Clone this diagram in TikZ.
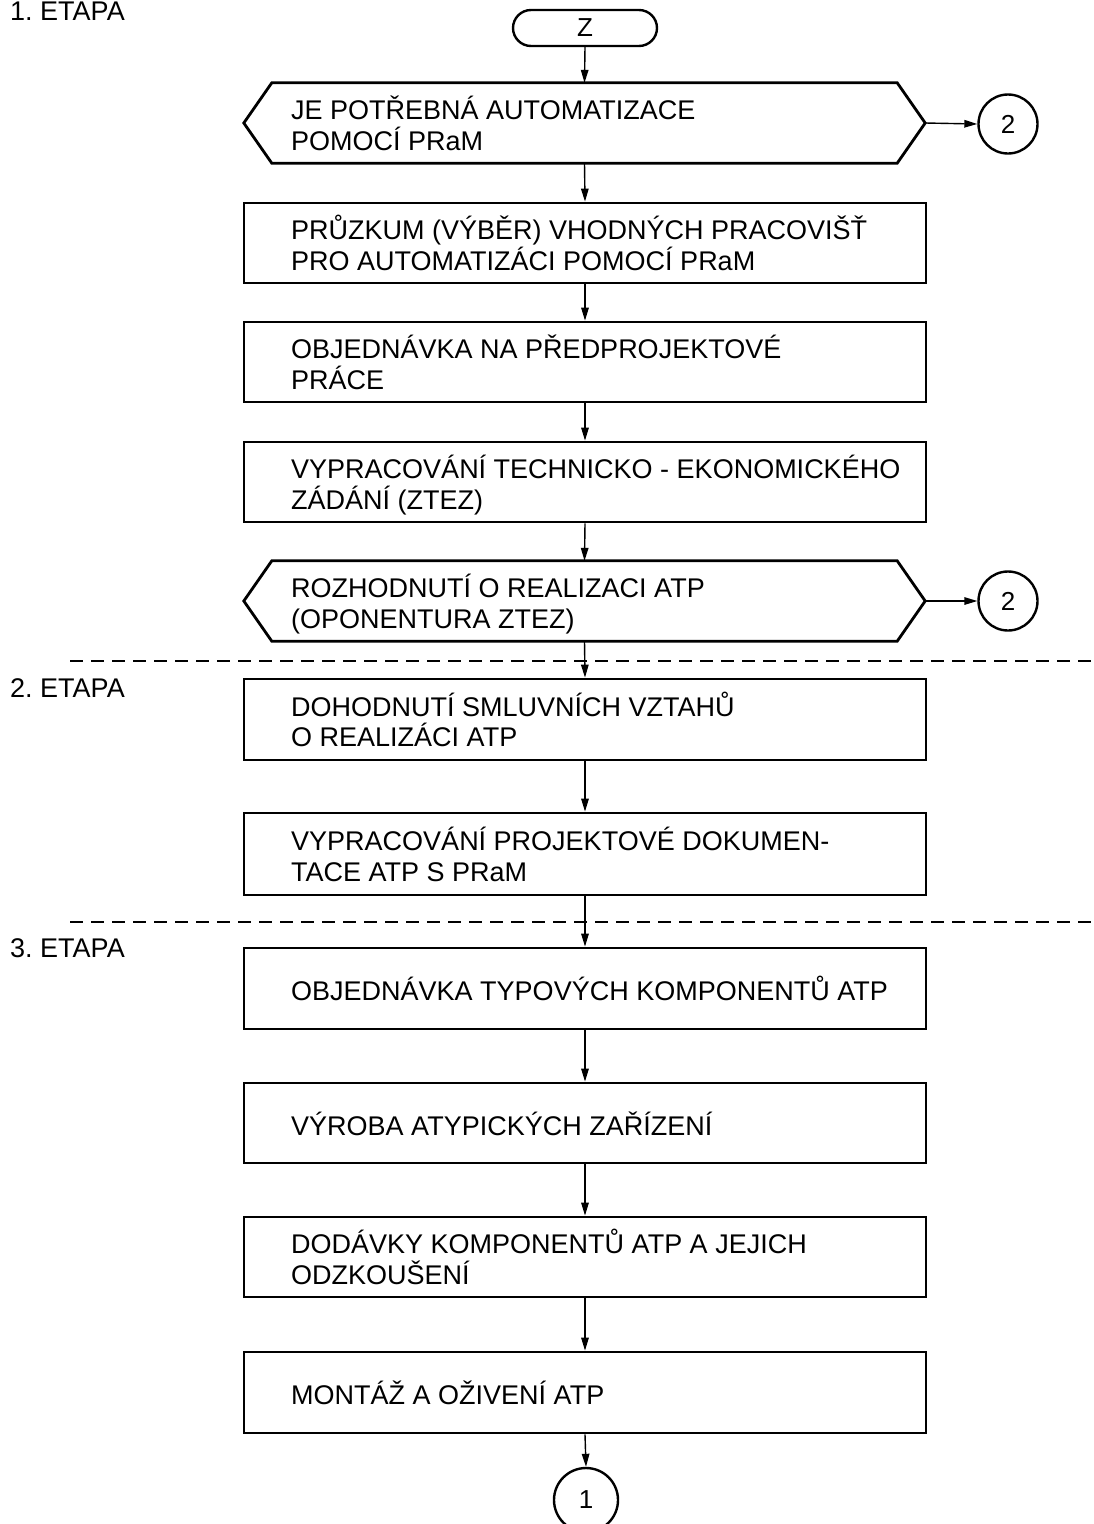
\documentclass[tikz,border=0pt]{standalone}
\usepackage{fontspec}
\setmainfont{Liberation Sans}
\usetikzlibrary{arrows.meta,calc}
\frenchspacing
\begin{document}
\begin{tikzpicture}[x=1pt,y=1pt,
  box/.style={draw, line width=2.8pt, minimum width=682pt, inner sep=0pt},
  hexbase/.style={minimum width=681pt, minimum height=80pt, inner sep=0pt},
  hexline/.style={line width=2.8pt, line join=miter},
  txt/.style={anchor=base west, inner sep=0pt, align=left, font=\fontsize{27}{30.5}\selectfont},
  arr/.style={line width=1.4pt, -{Triangle[length=13pt,width=7.5pt]}},
  conn/.style={circle, draw, line width=2.4pt, inner sep=0pt, font=\fontsize{26}{30}\selectfont},
  sep/.style={line width=1.4pt, dash pattern=on 13pt off 8pt},
  etapa/.style={anchor=base west, inner sep=0pt, font=\fontsize{27}{30}\selectfont}]
\fill[white] (0,0) rectangle (1093,-1524);
\useasboundingbox (0,0) rectangle (1093,-1524);

% stage labels and separators
\node[etapa] (e1) at (10,-20.5) {1. ETAPA};
\node[etapa] (e2) at (10,-697) {2. ETAPA};
\node[etapa] (e3) at (10,-957) {3. ETAPA};
\coordinate (s1a) at (70,-661);
\coordinate (s1b) at (1093,-661);
\coordinate (s2a) at (70,-922);
\coordinate (s2b) at (1093,-922);
\draw[sep] (s1a) -- (s1b);
\draw[sep] (s2a) -- (s2b);

% start
\node[draw, line width=2.4pt, rounded corners=18pt, minimum width=144pt, minimum height=36pt, inner sep=0pt, font=\fontsize{26}{28}\selectfont] (z) at (585,-28) {Z};

% decision 1
\node[hexbase] (d1) at (584.5,-123) {};
\draw[hexline] (d1.west) -- ($(d1.north west)+(28,0)$) -- ($(d1.north east)+(-28,0)$) -- (d1.east) -- ($(d1.south east)+(-28,0)$) -- ($(d1.south west)+(28,0)$) -- cycle;
\node[txt] (t0) at (291,-150) {JE POTŘEBNÁ AUTOMATIZACE\\POMOCÍ PRaM};
\node[conn, minimum size=59pt] (c2a) at (1008,-124) {2};

% boxes
\node[box, minimum height=80pt] (b1) at (585,-243) {};
\node[txt] (t1) at (291,-270) {PRŮZKUM (VÝBĚR) VHODNÝCH PRACOVIŠŤ\\PRO AUTOMATIZÁCI POMOCÍ PRaM};
\node[box, minimum height=80pt] (b2) at (585,-362) {};
\node[txt] (t2) at (291,-389) {OBJEDNÁVKA NA PŘEDPROJEKTOVÉ\\PRÁCE};
\node[box, minimum height=80pt] (b3) at (585,-482) {};
\node[txt] (t3) at (291,-509) {VYPRACOVÁNÍ TECHNICKO - EKONOMICKÉHO\\ZÁDÁNÍ (ZTEZ)};

% decision 2
\node[hexbase] (d2) at (584.5,-601) {};
\draw[hexline] (d2.west) -- ($(d2.north west)+(28,0)$) -- ($(d2.north east)+(-28,0)$) -- (d2.east) -- ($(d2.south east)+(-28,0)$) -- ($(d2.south west)+(28,0)$) -- cycle;
\node[txt] (t4) at (291,-628) {ROZHODNUTÍ O REALIZACI ATP\\(OPONENTURA ZTEZ)};
\node[conn, minimum size=59pt] (c2b) at (1008,-601) {2};

\node[box, minimum height=81pt] (b4) at (585,-719.5) {};
\node[txt] (t5) at (291,-746.5) {DOHODNUTÍ SMLUVNÍCH VZTAHŮ\\O REALIZÁCI ATP};
\node[box, minimum height=82pt] (b5) at (585,-854) {};
\node[txt] (t6) at (291,-881) {VYPRACOVÁNÍ PROJEKTOVÉ DOKUMEN-\\TACE ATP S PRaM};
\node[box, minimum height=81pt] (b6) at (585,-988.5) {};
\node[txt] (t7) at (291,-1000.5) {OBJEDNÁVKA TYPOVÝCH KOMPONENTŮ ATP};
\node[box, minimum height=80pt] (b7) at (585,-1123) {};
\node[txt] (t8) at (291,-1135) {VÝROBA ATYPICKÝCH ZAŘÍZENÍ};
\node[box, minimum height=80pt] (b8) at (585,-1257) {};
\node[txt] (t9) at (291,-1284) {DODÁVKY KOMPONENTŮ ATP A JEJICH\\ODZKOUŠENÍ};
\node[box, minimum height=81pt] (b9) at (585,-1392.5) {};
\node[txt] (t10) at (291,-1404) {MONTÁŽ A OŽIVENÍ ATP};

\node[conn, minimum size=64pt] (c1) at (586,-1500) {1};

% connectors
\draw[arr] (z.south) -- (d1.north);
\draw[arr] (d1.east) -- (c2a.west);
\draw[arr] (d1.south) -- (b1.north);
\draw[arr] (b1.south) -- (b2.north);
\draw[arr] (b2.south) -- (b3.north);
\draw[arr] (b3.south) -- (d2.north);
\draw[arr] (d2.east) -- (c2b.west);
\draw[arr] (d2.south) -- (b4.north);
\draw[arr] (b4.south) -- (b5.north);
\draw[arr] (b5.south) -- (b6.north);
\draw[arr] (b6.south) -- (b7.north);
\draw[arr] (b7.south) -- (b8.north);
\draw[arr] (b8.south) -- (b9.north);
\draw[arr] (b9.south) -- (c1.north);
\end{tikzpicture}
\end{document}
